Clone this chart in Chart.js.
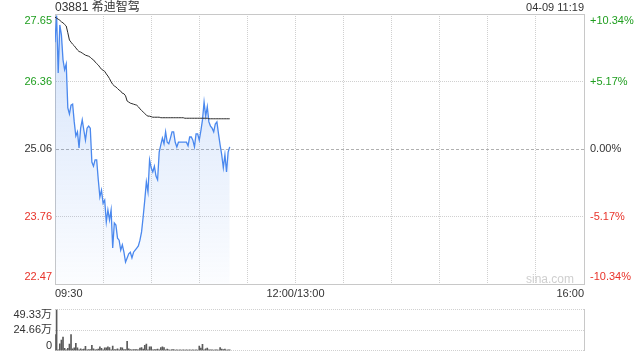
<!DOCTYPE html>
<html lang="zh">
<head>
  <meta charset="UTF-8">
  <title>03881 希迪智驾 - 分时</title>
  <script src="https://cdn.jsdelivr.net/npm/chart.js"></script>
  <style>
    body {
      margin: 0;
      background: #fff;
      font-family: 'Liberation Sans', Arial, 'Noto Sans CJK SC', sans-serif;
    }
    #wrap {
      position: relative;
      width: 640px;
      height: 360px;
      overflow: hidden;
    }
    .txt {
      position: absolute;
      color: #333;
      white-space: nowrap;
      line-height: 14px;
    }
    #stockName { left: 55px; top: 0px; font-size: 12px; }
    #stamp { right: 56px; top: 0px; font-size: 11px; }
    #mark { right: 66px; top: 272px; font-size: 12px; color: #cfcfcf; }
    #priceChart { position: absolute; left: 0; top: 0; }
    #volChart { position: absolute; left: 0; top: 300px; }
  </style>
</head>
<body>
<div id="wrap">
  <canvas id="priceChart" width="640" height="300"></canvas>
  <canvas id="volChart" width="640" height="60"></canvas>
  <div class="txt" id="stockName">03881 希迪智驾</div>
  <div class="txt" id="stamp">04-09 11:19</div>
  <div class="txt" id="mark">sina.com</div>
</div>
<script>
  // session: 09:30-12:00 + 13:00-16:00 = 330 minutes
  const sessionMinutes = 330;
  const prevClose = 25.06;
  const priceTicks = [27.65, 26.36, 25.06, 23.76, 22.47];
  const pctTicks = [10.34, 5.17, 0, -5.17, -10.34];
  const pctLabels = ['+10.34%', '+5.17%', '0.00%', '-5.17%', '-10.34%'];
  const timeTicks = [0, 150, 330];
  const timeLabels = ['09:30', '12:00/13:00', '16:00'];
  const volTicks = [49.33, 24.66, 0];
  const volLabels = ['49.33万', '24.66万', '0'];

  // one value per minute from 09:30 to 11:19
  const prices = [
    27.11, 27.62, 26.52, 27.44, 27.25, 26.77, 26.58, 26.69, 25.85, 25.73,
    25.90, 25.92, 25.58, 25.31, 25.39, 25.08, 25.46, 25.62, 25.42, 25.23,
    25.46, 25.50, 25.46, 24.81, 24.73, 24.85, 24.85, 24.47, 24.14, 24.27,
    24.02, 24.08, 23.66, 23.89, 23.70, 23.89, 23.16, 23.64, 23.60, 23.35,
    23.31, 23.12, 23.22, 23.08, 22.89, 22.97, 23.05, 23.08, 22.97, 23.08,
    23.12, 23.16, 23.20, 23.31, 23.47, 23.76, 24.08, 24.43, 24.24, 24.85,
    24.70, 24.62, 24.73, 24.54, 24.47, 25.00, 25.14, 25.27, 25.16, 25.39,
    25.19, 25.16, 25.27, 25.39, 25.39, 25.19, 25.10, 25.19, 25.19, 25.19,
    25.19, 25.19, 25.19, 25.12, 25.29, 25.29, 25.23, 25.10, 25.35, 25.35,
    25.23, 25.41, 25.62, 25.96, 25.69, 25.87, 25.58, 25.50, 25.46, 25.39,
    25.54, 25.58, 25.35, 25.14, 24.95, 24.70, 24.95, 24.62, 25.00, 25.10
  ];
  const avgPrices = [
    27.59, 27.57, 27.55, 27.53, 27.50, 27.48, 27.45, 27.42, 27.29, 27.15,
    27.11, 27.07, 27.04, 27.00, 26.96, 26.93, 26.92, 26.90, 26.88, 26.86,
    26.85, 26.84, 26.82, 26.79, 26.77, 26.73, 26.70, 26.67, 26.63, 26.59,
    26.57, 26.55, 26.50, 26.46, 26.41, 26.35, 26.30, 26.27, 26.25, 26.22,
    26.19, 26.17, 26.13, 26.12, 26.08, 25.98, 25.96, 25.94, 25.93, 25.92,
    25.91, 25.90, 25.87, 25.83, 25.80, 25.77, 25.74, 25.71, 25.69, 25.69,
    25.68, 25.67, 25.67, 25.67, 25.67, 25.67, 25.66, 25.66, 25.66, 25.66,
    25.66, 25.66, 25.66, 25.66, 25.66, 25.66, 25.66, 25.66, 25.66, 25.66,
    25.66, 25.65, 25.65, 25.65, 25.65, 25.65, 25.65, 25.65, 25.65, 25.65,
    25.65, 25.65, 25.65, 25.65, 25.65, 25.65, 25.64, 25.64, 25.64, 25.64,
    25.64, 25.64, 25.64, 25.64, 25.64, 25.64, 25.64, 25.64, 25.64, 25.64
  ];
  // volume in 万
  const volumes = [
    19, 49.33, 0.8, 8, 12.5, 16, 2.6, 0.6, 2.6, 7.6,
    19, 2, 3, 8.6, 3, 0.6, 2, 1, 1.5, 5,
    0.6, 1, 1, 6, 2, 0.6, 1, 1.5, 4.3, 2.5,
    0.6, 3, 3, 4.3, 3.5, 0.6, 5.3, 1, 1, 2,
    0.6, 3.3, 3, 1, 1, 11, 2, 1, 0.6, 1,
    1, 1, 0.6, 2.7, 3.3, 1.7, 6, 7.7, 0.6, 4.3,
    4.3, 0.6, 1, 1, 1.7, 0.6, 3.3, 4.3, 3.3, 0.6,
    1.7, 0.7, 0.5, 1, 1, 0.5, 0.7, 0.5, 0.7, 0.5,
    0.7, 0.5, 0.7, 0.5, 0.7, 0.5, 0.7, 0.5, 0.7, 0.5,
    5.3, 2.7, 7.3, 0.8, 2, 2.7, 0.6, 0.7, 0.7, 0.5,
    0.6, 0.7, 0.5, 3.3, 1.7, 1, 1.7, 0.5, 0.7, 0.7
  ];

  const green = '#1f9e1f';
  const red = '#e8332a';
  const frame = '#c8c8c8';
  const dotted = '#d0d0d0';

  Chart.defaults.font.family = "'Liberation Sans', Arial, 'Noto Sans CJK SC', sans-serif";
  Chart.defaults.font.size = 11;
  Chart.defaults.color = '#333';

  // sina puts the top label under the top line and the bottom one over the bottom line
  function labelSpots(top, bottom, n, shiftTop, shiftBottom) {
    const out = [];
    const range = top - bottom;
    for (let i = 0; i < n; i++) {
      let v = top - range * i / (n - 1);
      if (i === 0) v -= range * shiftTop;
      if (i === n - 1) v += range * shiftBottom;
      out.push({ value: v });
    }
    return out;
  }

  function sideColor(ctx) {
    if (ctx.index < 2) return green;
    if (ctx.index > 2) return red;
    return '#333';
  }

  const pmax = priceTicks[0];
  const pmin = priceTicks[priceTicks.length - 1];

  new Chart(document.getElementById('priceChart'), {
    type: 'line',
    data: {
      datasets: [{
        label: '均价',
        data: avgPrices.map((v, i) => ({ x: i, y: v })),
        borderColor: '#2b2b2b',
        borderWidth: 1,
        pointRadius: 0,
        tension: 0,
        fill: false
      }, {
        label: '价格',
        data: prices.map((v, i) => ({ x: i, y: v })),
        borderColor: '#4a88ee',
        borderWidth: 1.3,
        pointRadius: 0,
        tension: 0,
        fill: 'start',
        backgroundColor: (ctx) => {
          const area = ctx.chart.chartArea;
          if (!area) return 'rgba(0,0,0,0)';
          const g = ctx.chart.ctx.createLinearGradient(0, area.top, 0, area.bottom);
          g.addColorStop(0, 'rgba(74,136,238,0.24)');
          g.addColorStop(1, 'rgba(74,136,238,0.02)');
          return g;
        }
      }]
    },
    options: {
      responsive: false,
      animation: false,
      layout: { padding: { top: 14, left: 0, right: 0, bottom: 0 } },
      plugins: { legend: { display: false }, tooltip: { enabled: false } },
      scales: {
        x: {
          type: 'linear',
          min: 0,
          max: sessionMinutes,
          afterBuildTicks: (s) => {
            const t = [];
            for (let m = 0; m <= sessionMinutes; m += 30) t.push({ value: m });
            s.ticks = t;
          },
          afterFit: (s) => { s.height = 16; },
          ticks: {
            autoSkip: false,
            maxRotation: 0,
            padding: 3,
            align: 'inner',
            color: '#333',
            callback: (v) => {
              const k = timeTicks.indexOf(v);
              return k >= 0 ? timeLabels[k] : '';
            }
          },
          grid: {
            drawTicks: false,
            color: (ctx) => (ctx.tick && (ctx.tick.value === 0 || ctx.tick.value === sessionMinutes)) ? 'rgba(0,0,0,0)' : dotted
          },
          border: { display: true, color: frame, dash: [1, 1] }
        },
        x2: {
          type: 'linear',
          position: 'top',
          min: 0,
          max: sessionMinutes,
          afterFit: (s) => { s.height = 0; },
          ticks: { display: false },
          grid: { display: false, drawTicks: false },
          border: { display: true, color: frame }
        },
        y: {
          type: 'linear',
          position: 'left',
          min: pmin,
          max: pmax,
          afterBuildTicks: (s) => { s.ticks = labelSpots(pmax, pmin, priceTicks.length, 0.024, 0.026); },
          afterFit: (s) => { s.width = 55; },
          ticks: {
            padding: 3,
            color: sideColor,
            callback: (v, i) => priceTicks[i].toFixed(2)
          },
          grid: {
            drawTicks: false,
            color: (ctx) => {
              if (!ctx.tick) return dotted;
              if (ctx.index === 0 || ctx.index === priceTicks.length - 1) return 'rgba(0,0,0,0)';
              return ctx.index === 2 ? '#b0b0b0' : dotted;
            }
          },
          border: {
            display: true,
            color: frame,
            dash: (ctx) => (ctx.index === 2 && ctx.tick) ? [3, 2] : [1, 1]
          }
        },
        y2: {
          type: 'linear',
          position: 'right',
          min: pctTicks[pctTicks.length - 1],
          max: pctTicks[0],
          afterBuildTicks: (s) => { s.ticks = labelSpots(pctTicks[0], pctTicks[pctTicks.length - 1], pctTicks.length, 0.024, 0.026); },
          afterFit: (s) => { s.width = 56; },
          ticks: {
            padding: 6,
            color: sideColor,
            callback: (v, i) => pctLabels[i]
          },
          grid: { display: false, drawTicks: false },
          border: { display: true, color: frame }
        }
      }
    }
  });

  const vmax = volTicks[0];

  new Chart(document.getElementById('volChart'), {
    type: 'bar',
    data: {
      datasets: [{
        label: '成交量',
        data: volumes.map((v, i) => ({ x: i, y: v })),
        backgroundColor: '#5a5a5a',
        barThickness: 1
      }]
    },
    options: {
      responsive: false,
      animation: false,
      layout: { padding: { top: 4, left: 0, right: 0, bottom: 6 } },
      plugins: { legend: { display: false }, tooltip: { enabled: false } },
      scales: {
        x: {
          type: 'linear',
          min: 0,
          max: sessionMinutes,
          offset: false,
          display: false,
          grid: { offset: false }
        },
        y: {
          type: 'linear',
          position: 'left',
          min: 0,
          max: vmax,
          afterBuildTicks: (s) => { s.ticks = labelSpots(vmax, 0, volTicks.length, 0.14, 0.12); },
          afterFit: (s) => { s.width = 55; },
          ticks: {
            padding: 3,
            color: '#333',
            callback: (v, i) => volLabels[i]
          },
          grid: { display: false, drawTicks: false },
          border: { display: false }
        },
        y2: {
          type: 'linear',
          position: 'right',
          min: 0,
          max: vmax,
          afterBuildTicks: (s) => { s.ticks = volTicks.map(v => ({ value: v })); },
          afterFit: (s) => { s.width = 56; },
          ticks: { display: false },
          grid: { drawTicks: false, color: dotted },
          border: { display: true, color: frame, dash: [1, 1] }
        }
      }
    }
  });
</script>
</body>
</html>
